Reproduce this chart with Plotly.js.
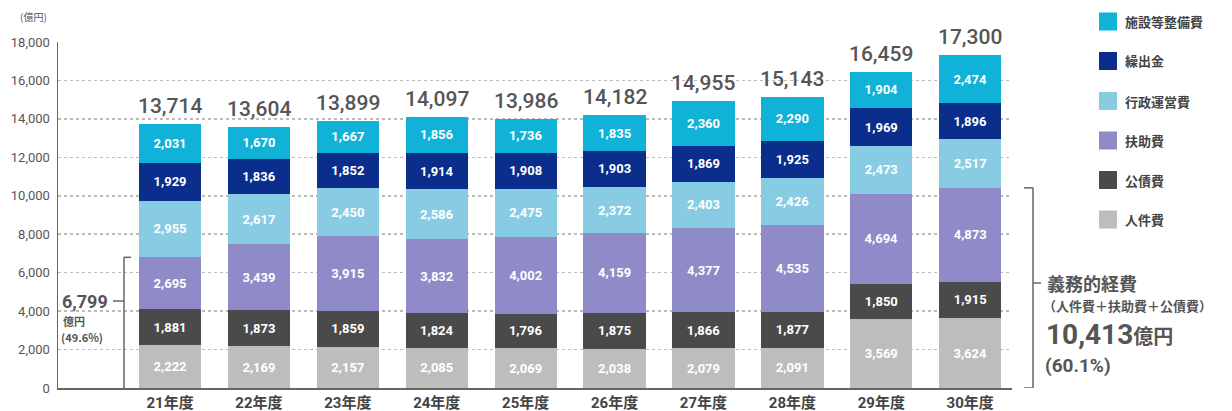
<!DOCTYPE html>
<html><head><meta charset="utf-8">
<script src="https://cdn.plot.ly/plotly-3.0.1.min.js"></script>
<style>html,body{margin:0;padding:0;background:#fff;}#chart{width:1232px;height:411px;}</style>
</head><body><div id="chart"></div>
<script>
const categories = ['21年度','22年度','23年度','24年度','25年度','26年度','27年度','28年度','29年度','30年度'];
const seriesNames = ['人件費','公債費','扶助費','行政運営費','繰出金','施設等整備費'];
const jinkenhi   = [2222,2169,2157,2085,2069,2038,2079,2091,3569,3624];
const kosaihi    = [1881,1873,1859,1824,1796,1875,1866,1877,1850,1915];
const fujohi     = [2695,3439,3915,3832,4002,4159,4377,4535,4694,4873];
const gyosei     = [2955,2617,2450,2586,2475,2372,2403,2426,2473,2517];
const kuridashi  = [1929,1836,1852,1914,1908,1903,1869,1925,1969,1896];
const shisetsu   = [2031,1670,1667,1856,1736,1835,2360,2290,1904,2474];
const totals     = [13714,13604,13899,14097,13986,14182,14955,15143,16459,17300];
const obligatory = [6799, 10413];
const obligShare = [49.6, 60.1];

const seriesValues = [jinkenhi,kosaihi,fujohi,gyosei,kuridashi,shisetsu];
const colors = ['#bdbdbd','#4a4a4a','#8e8bc8','#88cce4','#0b2e8c','#10b2d8'];

const L=58, R=1012, T=42, B=388;
const px = x => (x-L)/(R-L);
const py = y => (B-y)/(B-T);
const fmt = v => v.toLocaleString('en-US');

const traces = seriesNames.map((n,i)=>({
  type:'bar', name:n, x:categories, y:seriesValues[i],
  marker:{color:colors[i], line:{width:0}},
  text:seriesValues[i].map(fmt), textposition:'inside', insidetextanchor:'middle',
  textfont:{color:'#ffffff', size:13, family:'Roboto, sans-serif', weight:700},
  constraintext:'none', hoverinfo:'skip', showlegend:false
}));

const annotations = [];
categories.forEach((c,i)=>{
  annotations.push({x:c, y:totals[i], xref:'x', yref:'y', text:fmt(totals[i]), showarrow:false,
    yanchor:'bottom', yshift:4, font:{size:21, color:'#555', family:'Roboto, sans-serif', weight:500}});
});
function pa(x, y, text, font, xanchor){
  annotations.push({xref:'paper', yref:'paper', x:px(x), y:py(y), xanchor:xanchor||'left', yanchor:'middle',
    text, showarrow:false, font});
}
// unit label
pa(33, 17, '(億円)', {size:10, color:'#555', family:'Noto Sans CJK JP'}, 'center');
// left obligatory annotation
pa(60, 301, fmt(obligatory[0]), {size:18, color:'#555', family:'Roboto, sans-serif', weight:700});
pa(61, 321, '億円', {size:11, color:'#555', family:'Noto Sans CJK JP', weight:700});
pa(59, 337, '('+obligShare[0]+'%)', {size:11, color:'#555', family:'Noto Sans CJK JP', weight:700});
// right obligatory annotation
pa(1045, 283, '義務的経費', {size:18, color:'#555', family:'Noto Sans CJK JP', weight:700});
pa(1041, 305, '（人件費＋扶助費＋公債費）', {size:13, color:'#555', family:'Noto Sans CJK JP', weight:700});
pa(1044, 334, '<span style="font-size:28px">'+fmt(obligatory[1])+'</span><span style="font-size:20px">億円</span>',
  {size:28, color:'#555', family:'Roboto, Noto Sans CJK JP', weight:700});
pa(1043, 365, '('+obligShare[1]+'%)', {size:19, color:'#555', family:'Roboto, sans-serif', weight:700});

const shapes = [];
const lineC = '#666';
// left bracket
shapes.push({type:'line', xref:'paper', yref:'y', x0:px(124), x1:px(124), y0:0, y1:obligatory[0], line:{color:lineC,width:1.5}});
shapes.push({type:'line', xref:'paper', yref:'y', x0:px(124), x1:px(131), y0:obligatory[0], y1:obligatory[0], line:{color:lineC,width:1.5}});
shapes.push({type:'line', xref:'paper', yref:'paper', x0:px(113), x1:px(124), y0:py(301), y1:py(301), line:{color:lineC,width:1.5}});
// right bracket
shapes.push({type:'line', xref:'paper', yref:'y', x0:px(1033), x1:px(1033), y0:0, y1:obligatory[1], line:{color:lineC,width:1.5}});
shapes.push({type:'line', xref:'paper', yref:'y', x0:px(1024), x1:px(1033), y0:obligatory[1], y1:obligatory[1], line:{color:lineC,width:1.5}});
shapes.push({type:'line', xref:'paper', yref:'y', x0:px(1024), x1:px(1033), y0:0, y1:0, line:{color:lineC,width:1.5}});
shapes.push({type:'line', xref:'paper', yref:'paper', x0:px(1033), x1:px(1041), y0:py(283), y1:py(283), line:{color:lineC,width:1.5}});

// manual legend (top to bottom: reversed stack order)
const legendY = [21.5,61,101,140.5,180,219.5];
for(let k=0;k<6;k++){
  const i = 5-k;
  const yc = legendY[k];
  shapes.push({type:'rect', xref:'paper', yref:'paper', x0:px(1099), x1:px(1117), y0:py(yc+9), y1:py(yc-9),
    fillcolor:colors[i], line:{width:0}});
  pa(1123, yc, seriesNames[i], {size:13, color:'#444', family:'Noto Sans CJK JP', weight:700});
}

const layout = {
  width:1232, height:411, barmode:'stack', bargap:0.30,
  margin:{l:L, r:1232-R, t:T, b:411-B, pad:0},
  paper_bgcolor:'#fff', plot_bgcolor:'#fff',
  showlegend:false,
  font:{family:'Roboto, Noto Sans CJK JP, sans-serif', color:'#555'},
  xaxis:{type:'category', range:[-1.26,9.47], showgrid:false, showline:true, linecolor:lineC, linewidth:1.5,
    ticks:'', tickfont:{size:15, color:'#444', family:'Roboto, Noto Sans CJK JP', weight:700}, fixedrange:true},
  yaxis:{range:[0,18000], tickvals:[0,2000,4000,6000,8000,10000,12000,14000,16000,18000],
    ticktext:['0','2,000','4,000','6,000','8,000','10,000','12,000','14,000','16,000','18,000'],
    showgrid:true, gridcolor:'#bbbbbb', griddash:'dot', gridwidth:1.5, zeroline:false,
    showline:true, linecolor:lineC, linewidth:1.5, ticks:'', ticklabelstandoff:4,
    tickfont:{size:13, color:'#555', family:'Roboto, sans-serif'}, fixedrange:true},
  annotations, shapes
};
Plotly.newPlot('chart', traces, layout, {displayModeBar:false, staticPlot:true});
</script></body></html>
